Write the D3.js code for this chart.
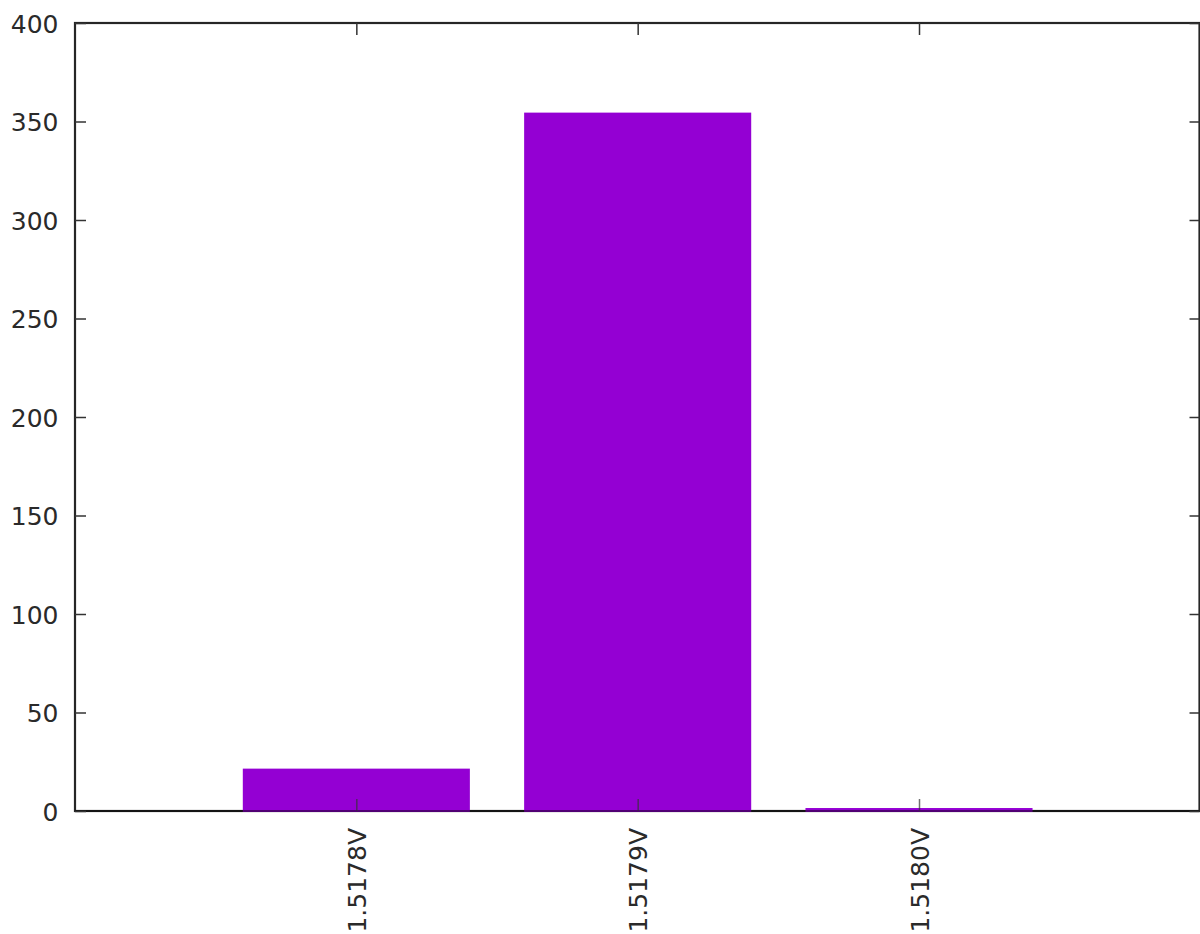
<!DOCTYPE html>
<html>
<head>
<meta charset="utf-8">
<script src="https://cdn.jsdelivr.net/npm/d3@7"></script>
<style>
  html, body { margin: 0; padding: 0; background: #fff; }
  svg { display: block; }
  text { font-family: "DejaVu Sans", sans-serif; fill: #2a2a2a; }
</style>
</head>
<body>
<svg id="chart" width="1200" height="934"></svg>
<script>
// Histogram of readings per voltage bin
const categories = ["1.5178V", "1.5179V", "1.5180V"];
const counts = [21, 354, 1];
const yTicks = [0, 50, 100, 150, 200, 250, 300, 350, 400];

const plotLeft = 75, plotRight = 1199.5, plotTop = 23, plotBottom = 811;
const barHalf = 0.4;
const fontSize = 25;
const barColor = "#9400d3";

const svg = d3.select("#chart");

const x = d3.scaleLinear().domain([-1, 3]).range([plotLeft, plotLeft + (plotRight - plotLeft) * 4 / 3.997]);
const y = d3.scaleLinear().domain([0, 400]).range([plotBottom, plotTop]);

// plot frame
svg.append("rect")
  .attr("x", plotLeft)
  .attr("y", plotTop)
  .attr("width", plotRight - plotLeft)
  .attr("height", plotBottom - plotTop)
  .attr("fill", "none")
  .attr("stroke", "#262626")
  .attr("stroke-width", 2.2);

// bars, filled and outlined in the same colour
svg.append("g")
  .selectAll("rect")
  .data(counts)
  .join("rect")
  .attr("x", (d, i) => x(i - barHalf))
  .attr("width", (d, i) => x(i + barHalf) - x(i - barHalf))
  .attr("y", d => y(d))
  .attr("height", d => y(0) - y(d))
  .attr("fill", barColor)
  .attr("stroke", barColor)
  .attr("stroke-width", 2);

// baseline shows through the bottom of the bars
svg.append("line")
  .attr("x1", plotLeft).attr("x2", plotRight)
  .attr("y1", plotBottom).attr("y2", plotBottom)
  .attr("stroke", "#000")
  .attr("stroke-opacity", 0.45)
  .attr("stroke-width", 2.2);

// left axis with labels, ticks pointing inward
const gLeft = svg.append("g")
  .attr("transform", `translate(${plotLeft},0)`)
  .call(d3.axisLeft(y).tickValues(yTicks).tickSize(-11).tickFormat(d3.format("d")));
gLeft.select(".domain").remove();
gLeft.selectAll(".tick line").attr("stroke", "#333").attr("stroke-width", 1.5);
gLeft.selectAll(".tick text")
  .attr("x", -16.5)
  .attr("dy", "0.36em")
  .style("font-size", fontSize + "px")
  .style("font-family", "'DejaVu Sans', sans-serif")
  .attr("fill", "#2a2a2a");

// right mirror ticks
const gRight = svg.append("g")
  .attr("transform", `translate(${plotRight},0)`)
  .call(d3.axisRight(y).tickValues(yTicks).tickSize(-10).tickFormat(""));
gRight.select(".domain").remove();
gRight.selectAll(".tick line").attr("stroke", "#333").attr("stroke-width", 1.5);

// bottom axis with rotated category labels
const gBottom = svg.append("g")
  .attr("transform", `translate(0,${plotBottom})`)
  .call(d3.axisBottom(x).tickValues([0, 1, 2]).tickSize(-12).tickFormat(i => categories[i]));
gBottom.select(".domain").remove();
gBottom.selectAll(".tick line").attr("stroke", "#333").attr("stroke-opacity", 0.7).attr("stroke-width", 1.5);
gBottom.selectAll(".tick text")
  .attr("transform", "rotate(-90)")
  .attr("text-anchor", "end")
  .attr("x", -17)
  .attr("y", 0)
  .attr("dy", "0.36em")
  .style("font-size", fontSize + "px")
  .style("font-family", "'DejaVu Sans', sans-serif")
  .attr("fill", "#2a2a2a");

// top mirror ticks
const gTop = svg.append("g")
  .attr("transform", `translate(0,${plotTop})`)
  .call(d3.axisTop(x).tickValues([0, 1, 2]).tickSize(-12).tickFormat(""));
gTop.select(".domain").remove();
gTop.selectAll(".tick line").attr("stroke", "#333").attr("stroke-width", 1.5);
</script>
</body>
</html>
